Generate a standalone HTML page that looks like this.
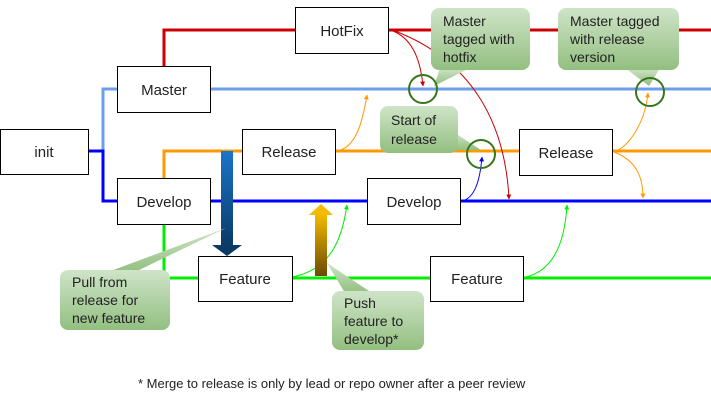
<!DOCTYPE html>
<html><head><meta charset="utf-8"><style>
body{margin:0;background:#fff;}
svg{display:block;font-family:"Liberation Sans",Arial,sans-serif;}
</style></head><body>
<svg width="711" height="418" viewBox="0 0 711 418" xmlns="http://www.w3.org/2000/svg">
<defs>
<linearGradient id="cg" x1="0" y1="0" x2="0" y2="1"><stop offset="0" stop-color="#cfe4c8"/><stop offset="1" stop-color="#93bf80"/></linearGradient>
<linearGradient id="bg" x1="0" y1="0" x2="0" y2="1"><stop offset="0" stop-color="#1a75c9"/><stop offset="1" stop-color="#0b3a66"/></linearGradient>
<linearGradient id="gg" x1="0" y1="0" x2="0" y2="1"><stop offset="0" stop-color="#f4bb00"/><stop offset="1" stop-color="#6b4a00"/></linearGradient>
<marker id="ar" viewBox="0 0 10 10" refX="9" refY="5" markerWidth="5" markerHeight="5" orient="auto"><path d="M0,0L10,5L0,10z" fill="#cc0000"/></marker>
<marker id="ao" viewBox="0 0 10 10" refX="9" refY="5" markerWidth="5" markerHeight="5" orient="auto"><path d="M0,0L10,5L0,10z" fill="#ff9900"/></marker>
<marker id="ab" viewBox="0 0 10 10" refX="9" refY="5" markerWidth="5" markerHeight="5" orient="auto"><path d="M0,0L10,5L0,10z" fill="#0000ff"/></marker>
<marker id="ag" viewBox="0 0 10 10" refX="9" refY="5" markerWidth="5" markerHeight="5" orient="auto"><path d="M0,0L10,5L0,10z" fill="#00ee00"/></marker>
</defs>
<g fill="none" stroke-width="3">
<path d="M164,66V30H295M388,30H711" stroke="#cc0000"/>
<path d="M117,89H103V151M210,89H711" stroke="#6d9eeb"/>
<path d="M88,151H103V201H117M210,201H367M460,201H711" stroke="#0000ff"/>
<path d="M164,178V151H242M335,151H519M612,151H711" stroke="#ff9900"/>
<path d="M164,224V278H198M292,278H430M523,278H711" stroke="#00ee00"/>
</g>
<g fill="none" stroke-width="1">
<path d="M337,151C355,148 362,125 367,95" stroke="#ff9900" marker-end="url(#ao)"/>
<path d="M393,31C410,38 420,55 423,86" stroke="#cc0000" marker-end="url(#ar)"/>
<path d="M395,31C470,60 505,120 509,199" stroke="#cc0000" marker-end="url(#ar)"/>
<path d="M462,201C475,198 480,180 482,157" stroke="#0000ff" marker-end="url(#ab)"/>
<path d="M614,152C630,146 645,122 648,93" stroke="#ff9900" marker-end="url(#ao)"/>
<path d="M614,152C635,160 643,175 643,198" stroke="#ff9900" marker-end="url(#ao)"/>
<path d="M292,277C330,270 342,240 347,205" stroke="#00ee00" marker-end="url(#ag)"/>
<path d="M526,277C555,270 565,240 567,205" stroke="#00ee00" marker-end="url(#ag)"/>
</g>
<g fill="#fff" stroke="#000" stroke-width="1">
<rect x="0.5" y="129.5" width="88" height="45"/>
<rect x="117.5" y="66.5" width="93" height="46"/>
<rect x="117.5" y="178.5" width="93" height="46"/>
<rect x="295.5" y="7.5" width="93" height="46"/>
<rect x="242.5" y="129.5" width="93" height="45"/>
<rect x="519.5" y="129.5" width="93" height="46"/>
<rect x="367.5" y="178.5" width="93" height="46"/>
<rect x="198.5" y="256.5" width="94" height="45"/>
<rect x="430.5" y="256.5" width="93" height="45"/>
</g>
<g font-size="15" text-anchor="middle" fill="#222">
<text x="44" y="157">init</text>
<text x="164" y="95">Master</text>
<text x="164" y="207">Develop</text>
<text x="342" y="36">HotFix</text>
<text x="289" y="157">Release</text>
<text x="566" y="158">Release</text>
<text x="414" y="207">Develop</text>
<text x="245" y="284">Feature</text>
<text x="477" y="284">Feature</text>
</g>
<rect x="221" y="151" width="12" height="95" fill="url(#bg)"/>
<path d="M212,245H242L227,256z" fill="#0b3a66"/>
<rect x="315" y="214" width="12" height="62" fill="url(#gg)"/>
<path d="M309,215H333L321,204z" fill="#f4bb00"/>
<g fill="url(#cg)">
<path d="M440,68L434,86L470,68z"/><rect x="431" y="8" width="99" height="62" rx="8"/>
<path d="M625,68L649,86L660,68z"/><rect x="558" y="8" width="121" height="62" rx="8"/>
<path d="M455,133L481,150L445,150z"/><rect x="380" y="106" width="78" height="47" rx="8"/>
<path d="M108,272L226,228L135,272z"/><rect x="60" y="270" width="110" height="60" rx="8"/>
<path d="M345,293L327,263L372,293z"/><rect x="332" y="291" width="92" height="59" rx="8"/>
</g>
<g fill="none" stroke="#38761d" stroke-width="2">
<circle cx="423" cy="89" r="14"/><circle cx="650" cy="92" r="14"/><circle cx="481" cy="154" r="14"/>
</g>
<g font-size="14" fill="#222">
<text x="443" y="26">Master</text><text x="443" y="44">tagged with</text><text x="443" y="62">hotfix</text>
<text x="570" y="26">Master tagged</text><text x="570" y="44">with release</text><text x="570" y="62">version</text>
<text x="391" y="125">Start of</text><text x="391" y="144">release</text>
<text x="72" y="287">Pull from</text><text x="72" y="305">release for</text><text x="72" y="323">new feature</text>
<text x="344" y="308">Push</text><text x="344" y="326">feature to</text><text x="344" y="344">develop*</text>
</g>
<text x="138" y="388" font-size="13" fill="#222">* Merge to release is only by lead or repo owner after a peer review</text>
</svg>
</body></html>
